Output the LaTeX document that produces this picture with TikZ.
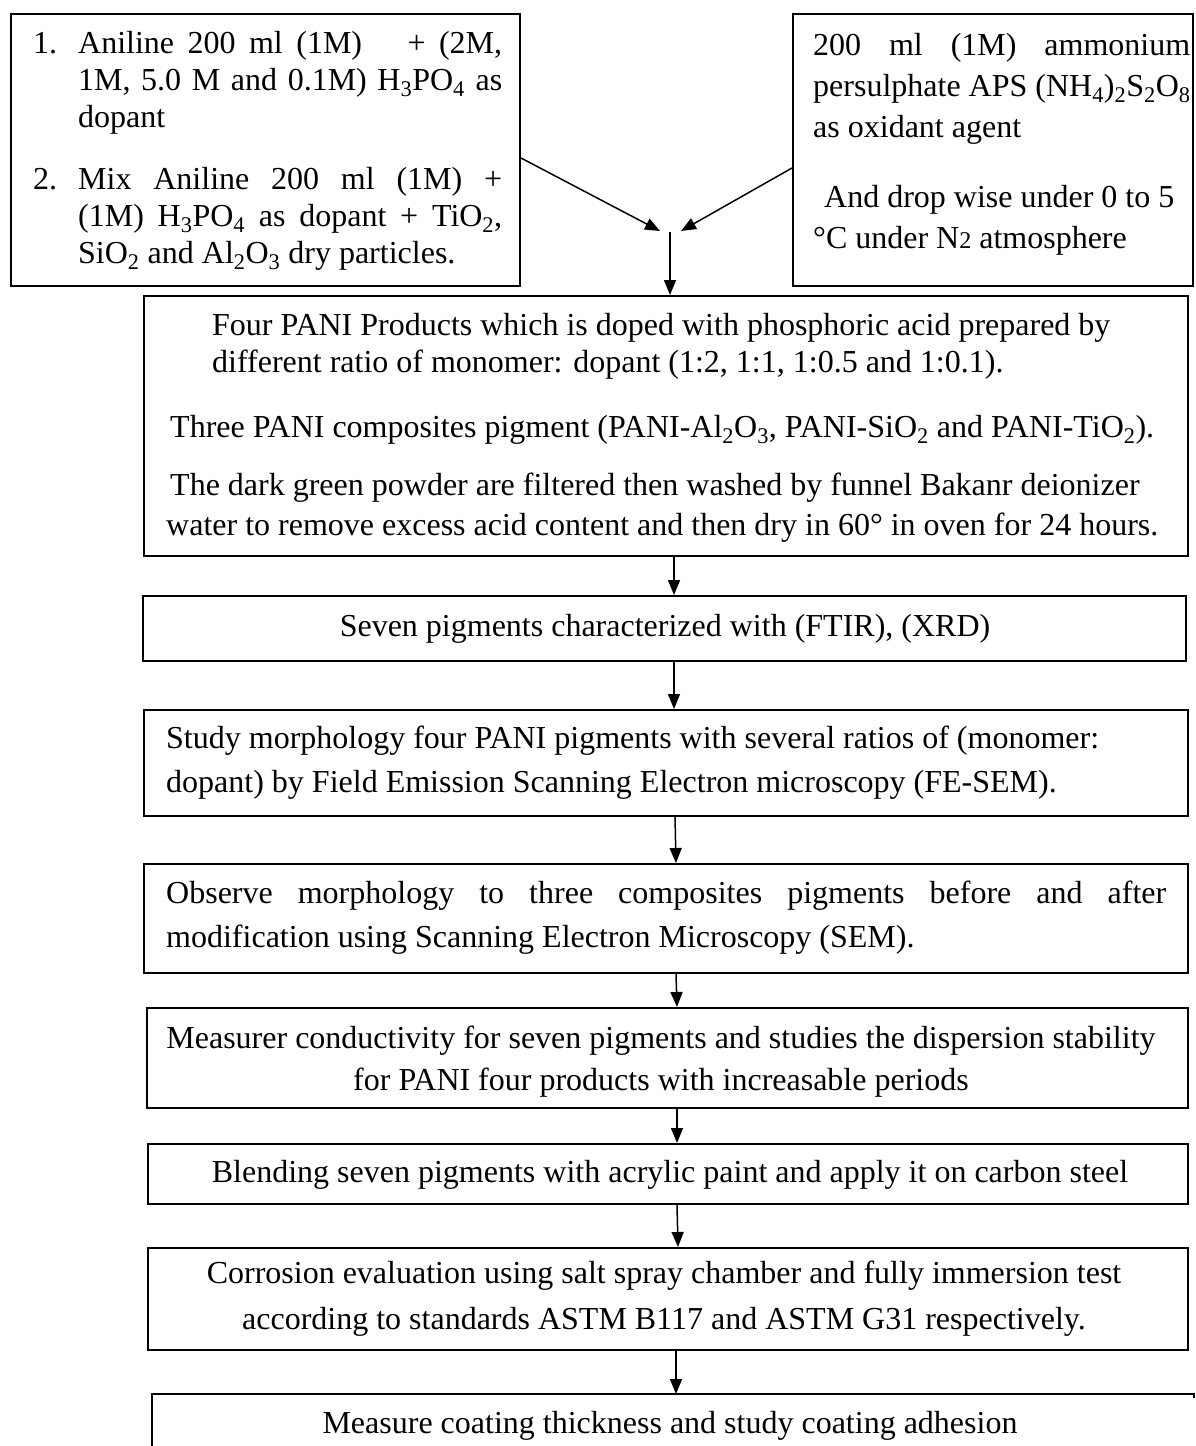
\documentclass[tikz,border=0pt]{standalone}
\usepackage{fontspec}
\setmainfont{Liberation Serif}
\usetikzlibrary{arrows.meta}
\newcommand{\chsub}[1]{\textsubscript{#1}}
\newcommand{\fstrut}{\rule{0pt}{30pt}}
\begin{document}
\begin{tikzpicture}[x=1pt,y=-1pt,
  box/.style={draw, line width=2pt, rectangle, inner sep=0pt, anchor=north west},
  txt/.style={inner sep=0pt, align=left, font=\fontsize{32}{37}\selectfont},
  ctxt/.style={inner sep=0pt, align=center, font=\fontsize{32}{37}\selectfont},
  arr/.style={line width=1.5pt, -{Triangle[width=12pt,length=15pt]}}]
\fill[white] (0,0) rectangle (1196,1446);
\useasboundingbox (0,0) rectangle (1196,1446);

% boxes
\node[box, minimum width=509pt, minimum height=272pt] (bL) at (10,13) {};
\node[box, minimum width=400pt, minimum height=272pt] (bR) at (792,13) {};
\node[box, minimum width=1044pt, minimum height=260pt] (b3) at (143,295) {};
\node[box, minimum width=1043pt, minimum height=65pt] (b4) at (142,595) {};
\node[box, minimum width=1044pt, minimum height=106pt] (b5) at (143,709) {};
\node[box, minimum width=1044pt, minimum height=109pt] (b6) at (143,863) {};
\node[box, minimum width=1041pt, minimum height=100pt] (b7) at (146,1007) {};
\node[box, minimum width=1040pt, minimum height=60pt] (b8) at (147,1143) {};
\node[box, minimum width=1040pt, minimum height=102pt] (b9) at (147,1247) {};
\node[box, draw=none, minimum width=1040pt, minimum height=60pt] (b10) at (152,1394) {};
\draw[line width=2pt] (b10.south west) |- (b10.north east) -- ([yshift=-4pt]b10.north east);

% texts
\node[txt, anchor=north west] (tL) at (33,23) {%
\fstrut\makebox[45pt][l]{1.}\makebox[424pt][s]{Aniline 200 ml (1M)\hspace{1em} + (2M,}\\
\hspace*{45pt}\makebox[424pt][s]{1M, 5.0 M and 0.1M) H\chsub{3}PO\chsub{4} as}\\
\hspace*{45pt}dopant\\[25pt]
\makebox[45pt][l]{2.}\makebox[424pt][s]{Mix Aniline 200 ml (1M) +}\\
\hspace*{45pt}\makebox[424pt][s]{(1M) H\chsub{3}PO\chsub{4} as dopant + TiO\chsub{2},}\\
\hspace*{45pt}SiO\chsub{2} and Al\chsub{2}O\chsub{3} dry particles.};

\node[txt, anchor=north west, font=\fontsize{32}{41}\selectfont] (tR) at (813,25) {%
\fstrut\makebox[377pt][s]{200 ml (1M) ammonium}\\
persulphate APS (NH\chsub{4})\chsub{2}S\chsub{2}O\chsub{8}\\
as oxidant agent\\[29pt]
\hspace*{11pt}And drop wise under 0 to 5\\
°C under N{\fontsize{24}{24}\selectfont 2} atmosphere};

\node[txt, anchor=north west] (t3) at (166,305) {%
\fstrut\hspace*{46pt}Four PANI Products which is doped with phosphoric acid prepared by\\
\hspace*{46pt}different ratio of monomer: dopant (1:2, 1:1, 1:0.5 and 1:0.1).\\[28pt]
\hspace*{4pt}Three PANI composites pigment (PANI-Al\chsub{2}O\chsub{3}, PANI-SiO\chsub{2} and PANI-TiO\chsub{2}).\\[21pt]
\hspace*{4pt}The dark green powder are filtered then washed by funnel Bakanr deionizer\\[3pt]
water to remove excess acid content and then dry in 60° in oven for 24 hours.};

\node[ctxt, anchor=base] (t4) at (665,636) {Seven pigments characterized with (FTIR), (XRD)};

\node[txt, anchor=north west, font=\fontsize{32}{44}\selectfont] (t5) at (166,718) {%
\fstrut Study morphology four PANI pigments with several ratios of (monomer:\\
dopant) by Field Emission Scanning Electron microscopy (FE-SEM).};

\node[txt, anchor=north west, font=\fontsize{32}{44}\selectfont] (t6) at (166,873) {%
\fstrut\makebox[1000pt][s]{Observe morphology to three composites pigments before and after}\\
modification using Scanning Electron Microscopy (SEM).};

\node[ctxt, anchor=north, font=\fontsize{32}{42}\selectfont] (t7) at (661,1018) {%
\fstrut Measurer conductivity for seven pigments and studies the dispersion stability\\
for PANI four products with increasable periods};

\node[ctxt, anchor=base] (t8) at (670,1182) {Blending seven pigments with acrylic paint and apply it on carbon steel};

\node[ctxt, anchor=north, font=\fontsize{32}{46}\selectfont] (t9) at (664,1253) {%
\fstrut Corrosion evaluation using salt spray chamber and fully immersion test\\
according to standards ASTM B117 and ASTM G31 respectively.};

\node[ctxt, anchor=base] (t10) at (670,1433) {Measure coating thickness and study coating adhesion};

% connectors
\coordinate (jL) at (660,231);
\coordinate (jR) at (681,231);
\coordinate (j) at (670,232);
\draw[arr] ([yshift=-8pt]bL.east) -- (jL);
\draw[arr] ([yshift=-18pt]bR.west) -- (jR);
\draw[arr] (j) -- (b3.north -| j);
\draw[arr] ([xshift=8pt]b3.south) -- ([xshift=9.5pt]b4.north);
\draw[arr] ([xshift=9.5pt]b4.south) -- ([xshift=8pt]b5.north);
\draw[arr] ([xshift=9pt]b5.south) -- ([xshift=10pt]b6.north);
\draw[arr] ([xshift=10pt]b6.south) -- ([xshift=9.5pt]b7.north);
\draw[arr] ([xshift=9.5pt]b7.south) -- ([xshift=9pt]b8.north);
\draw[arr] ([xshift=9pt]b8.south) -- ([xshift=10pt]b9.north);
\draw[arr] ([xshift=8pt]b9.south) -- ([xshift=3pt]b10.north);
\end{tikzpicture}
\end{document}
